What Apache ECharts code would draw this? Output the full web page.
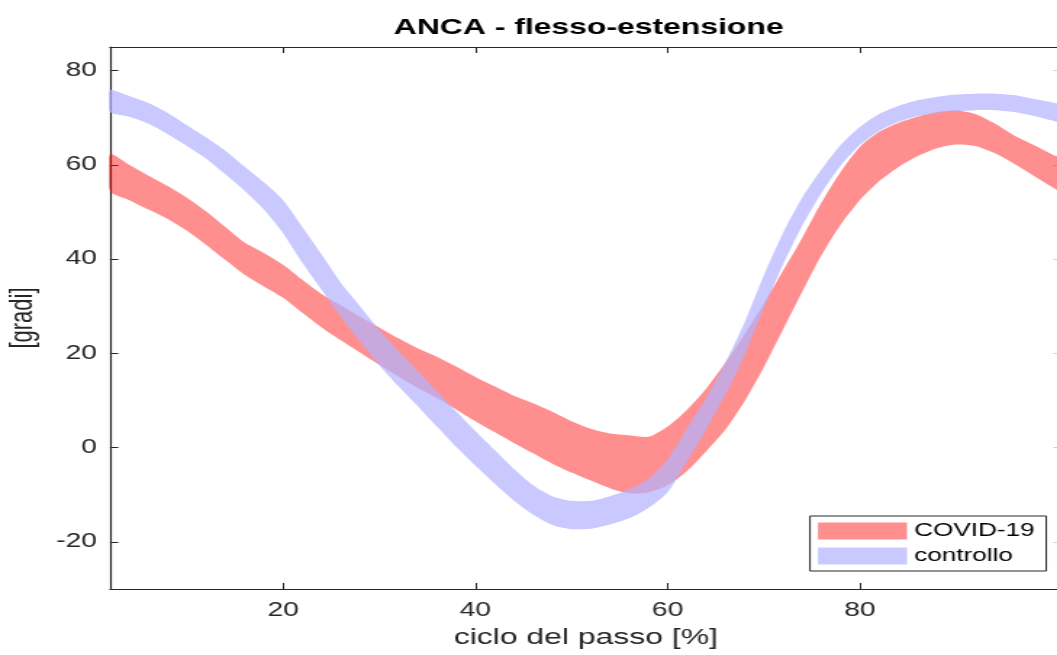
<!DOCTYPE html>
<html>
<head>
<meta charset="utf-8">
<script src="https://cdn.jsdelivr.net/npm/echarts@6/dist/echarts.min.js"></script>
<style>
  html, body {
    margin: 0;
    padding: 0;
    background: #fff;
    overflow: hidden;
  }
  /* the original figure is stretched sideways, so the chart is too */
  #main {
    width: 740px;
    height: 655px;
    transform: scaleX(1.45);
    transform-origin: 0 0;
  }
</style>
</head>
<body>
<div id="main"></div>
<script>
// gait cycle [%]
const ciclo = [2, 4, 6, 8, 10, 12, 14, 16, 18, 20, 22, 24, 26, 28, 30, 32, 34, 36, 38, 40,
  42, 44, 46, 48, 50, 52, 54, 56, 58, 60, 62, 64, 66, 68, 70, 72, 74, 76, 78, 80,
  82, 84, 86, 88, 90, 92, 94, 96, 98, 100, 101];

// COVID-19 band (lower / upper edge)
const covidLow = [54.4, 52.5, 50.5, 48.5, 46.0, 43.0, 39.8, 36.7, 34.2, 31.8, 28.6, 25.5, 22.8, 20.2, 17.6, 15.1, 12.7, 10.5, 8.1, 5.6,
  3.3, 1.0, -1.2, -3.4, -5.3, -7.0, -8.6, -9.7, -9.5, -8.0, -5.0, -0.8, 3.8, 9.8, 17.0, 25.0, 33.0, 40.8, 47.3, 52.5,
  56.5, 59.5, 61.8, 63.5, 64.3, 64.0, 62.5, 60.3, 57.8, 55.3, 54.3];
const covidHigh = [62.3, 60.0, 57.7, 55.5, 53.0, 50.1, 46.8, 43.5, 41.3, 38.8, 35.6, 32.6, 30.2, 27.8, 25.5, 23.2, 21.1, 19.3, 17.2, 15.0,
  13.0, 11.0, 9.4, 7.6, 5.6, 4.0, 3.0, 2.6, 2.3, 4.5, 8.0, 12.5, 18.0, 24.0, 30.5, 37.5, 44.5, 52.0, 58.5, 63.8,
  67.0, 68.9, 70.2, 71.2, 71.6, 70.8, 68.8, 66.3, 64.3, 62.2, 61.2];

// controllo band (lower / upper edge)
const ctrlLow = [71.2, 70.2, 68.7, 66.5, 64.0, 61.3, 58.0, 54.5, 50.5, 45.5, 39.2, 33.5, 27.8, 22.5, 17.5, 13.0, 8.8, 4.5, 0.2, -3.8,
  -7.6, -11.2, -14.2, -16.4, -17.3, -17.2, -16.3, -15.0, -12.8, -9.5, -3.0, 3.8, 11.2, 19.5, 29.5, 38.8, 47.0, 54.0, 59.8, 64.2,
  67.2, 69.1, 70.3, 71.0, 71.4, 71.6, 71.6, 71.2, 70.4, 69.4, 68.9];
const ctrlHigh = [75.8, 74.6, 73.1, 71.0, 68.4, 65.8, 63.0, 59.6, 56.3, 52.5, 46.8, 41.0, 35.0, 30.0, 25.0, 20.5, 16.3, 12.0, 7.7, 3.5,
  -0.5, -4.5, -8.0, -10.3, -11.3, -11.3, -10.3, -8.9, -6.6, -2.5, 4.0, 10.5, 18.0, 26.5, 36.5, 45.5, 53.0, 59.0, 64.2, 68.0,
  70.8, 72.5, 73.7, 74.4, 74.9, 75.1, 75.1, 74.8, 74.0, 73.2, 72.6];

const xTicks = [20, 40, 60, 80];
const yTicks = [-20, 0, 20, 40, 60, 80];

const redFill = "rgba(255, 0, 0, 0.44)";
const blueFill = "rgba(178, 178, 255, 0.7)";
const axisColor = "#262626";
const font = "'Liberation Sans', Arial, sans-serif";

// one filled polygon per band: upper edge forward, lower edge back
function band(name, low, high, color) {
  return {
    type: "custom",
    name: name,
    clip: true,
    silent: true,
    itemStyle: { color: color },
    data: ciclo.map((x, i) => [x, low[i], high[i]]),
    renderItem: function (params, api) {
      if (params.dataIndex !== 0) return null;
      const pts = [];
      for (let i = 0; i < ciclo.length; i++) pts.push(api.coord([ciclo[i], high[i]]));
      for (let i = ciclo.length - 1; i >= 0; i--) pts.push(api.coord([ciclo[i], low[i]]));
      return {
        type: "polygon",
        shape: { points: pts, smooth: 0.25 },
        style: { fill: color, stroke: null },
      };
    },
  };
}

const myChart = echarts.init(document.getElementById("main"));
myChart.setOption({
  animation: false,
  backgroundColor: "#fff",
  title: {
    text: "ANCA - flesso-estensione",
    left: 406,
    top: 17,
    textAlign: "center",
    padding: 0,
    textStyle: {
      fontFamily: font,
      fontSize: 22,
      fontWeight: "bold",
      color: "#000",
    },
  },
  legend: {
    orient: "vertical",
    left: 558.6,
    top: 516,
    padding: [6, 8, 6, 5.5],
    itemGap: 7,
    itemWidth: 61.4,
    itemHeight: 17,
    borderColor: axisColor,
    borderWidth: 1,
    backgroundColor: "#fff",
    icon: "rect",
    textStyle: { fontFamily: font, fontSize: 18, color: "#000" },
    data: [
      { name: "COVID-19", itemStyle: { color: redFill } },
      { name: "controllo", itemStyle: { color: blueFill } },
    ],
  },
  grid: {
    left: 75.9,
    top: 47,
    width: 656.3,
    height: 542,
    outerBoundsMode: "none",
  },
  xAxis: [
    {
      type: "value",
      min: 2,
      max: 101,
      name: "ciclo del passo [%]",
      nameLocation: "middle",
      nameGap: 38,
      nameTextStyle: { fontFamily: font, fontSize: 22, color: axisColor },
      axisLine: { onZero: false, lineStyle: { color: axisColor, width: 1.2 } },
      axisTick: { inside: true, length: 6, customValues: xTicks, lineStyle: { color: axisColor, width: 1 } },
      axisLabel: { customValues: xTicks, margin: 12, fontFamily: font, fontSize: 19.5, color: axisColor },
      splitLine: { show: false },
    },
    {
      type: "value",
      position: "top",
      min: 2,
      max: 101,
      axisLine: { onZero: false, lineStyle: { color: axisColor, width: 1.2 } },
      axisTick: { inside: true, length: 6, customValues: xTicks, lineStyle: { color: axisColor, width: 1 } },
      axisLabel: { show: false },
      splitLine: { show: false },
    },
  ],
  yAxis: [
    {
      type: "value",
      min: -30,
      max: 85,
      name: "[gradi]",
      nameLocation: "middle",
      nameGap: 49,
      nameTextStyle: { fontFamily: font, fontSize: 22, color: axisColor },
      axisLine: { show: true, onZero: false, lineStyle: { color: axisColor, width: 1.2 } },
      axisTick: { show: true, inside: true, length: 5.7, customValues: yTicks, lineStyle: { color: axisColor, width: 1 } },
      axisLabel: { customValues: yTicks, margin: 9, fontFamily: font, fontSize: 19.5, color: axisColor },
      splitLine: { show: false },
    },
    {
      type: "value",
      position: "right",
      min: -30,
      max: 85,
      axisLine: { show: false, onZero: false },
      axisTick: { show: true, inside: true, length: 5.7, customValues: yTicks, lineStyle: { color: "#cfcfcf", width: 1 } },
      axisLabel: { show: false },
      splitLine: { show: false },
    },
  ],
  series: [
    band("COVID-19", covidLow, covidHigh, redFill),
    band("controllo", ctrlLow, ctrlHigh, blueFill),
  ],
});
</script>
</body>
</html>
